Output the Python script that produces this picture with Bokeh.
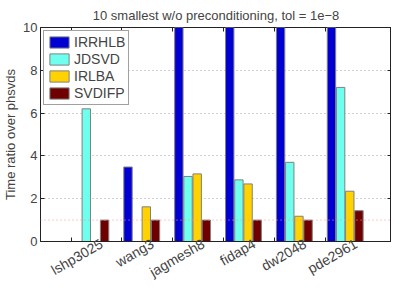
import math
from bokeh.plotting import figure
from bokeh.models import (ColumnDataSource, FixedTicker, Span, LinearAxis,
                          Legend, LegendItem)
from bokeh.transform import dodge
from bokeh.embed import file_html
from bokeh.resources import INLINE

nan = float("nan")
datasets = ["lshp3025", "wang3", "jagmesh8", "fidap4", "dw2048", "pde2961"]
positions = [1, 2, 3, 4, 5, 6]
irrhlb = [nan, 3.48, 12.0, 12.0, 12.0, 12.0]
jdsvd = [6.2, nan, 3.04, 2.88, 3.70, 7.2]
irlba = [nan, 1.62, 3.16, 2.69, 1.18, 2.35]
svdifp = [1.0, 1.0, 1.0, 1.0, 1.0, 1.44]
yticks = [0, 2, 4, 6, 8, 10]

series = [("IRRHLB", irrhlb, "#0000d2", 0.12),
          ("JDSVD", jdsvd, "#6effee", 0.30),
          ("IRLBA", irlba, "#ffd200", 0.48),
          ("SVDIFP", svdifp, "#6e0000", 0.66)]

FONT = "Liberation Sans"
LABEL_SHIFT = 0.6  # rotated labels end to the right of their tick

src = ColumnDataSource(dict(x=positions, IRRHLB=irrhlb, JDSVD=jdsvd,
                            IRLBA=irlba, SVDIFP=svdifp))

p = figure(width=391, height=289, x_range=(0.4, 7.3), y_range=(0, 10),
           output_backend="svg", toolbar_location=None,
           min_border_bottom=0, min_border_right=0, min_border_left=0,
           min_border_top=0)

p.title.text = "10 smallest w/o preconditioning, tol = 1e\u22128"
p.title.align = "center"
p.title.text_font = FONT
p.title.text_font_size = "13px"
p.title.text_font_style = "normal"
p.title.standoff = 10

items = []
for name, vals, color, off in series:
    r = p.vbar(x=dodge("x", off, range=p.x_range), top=name, width=0.165,
               bottom=0, source=src, fill_color=color, line_color="#808080",
               line_width=1)
    items.append(LegendItem(label=name, renderers=[r]))

# grid
p.xgrid.visible = False
p.ygrid.ticker = FixedTicker(ticks=[2, 4, 6, 8])
p.ygrid.grid_line_color = "#a0a0a0"
p.ygrid.grid_line_dash = "1 3"
p.add_layout(Span(location=1, dimension="width", line_color="#ff9090",
                  line_dash="1 3", line_width=1))

# axes
p.outline_line_color = "#222222"
xa = p.xaxis[0]
xa.axis_label = None
xa.ticker = FixedTicker(ticks=[v + LABEL_SHIFT for v in positions],
                        minor_ticks=positions)
xa.major_label_overrides = {v + LABEL_SHIFT: n for v, n in zip(positions, datasets)}
xa.major_label_orientation = math.radians(30)
xa.major_tick_line_color = None
xa.major_tick_in = 0
xa.major_tick_out = 0
xa.minor_tick_in = 4
xa.minor_tick_out = 0
xa.minor_tick_line_color = "#222222"
xa.major_label_standoff = 1
xa.major_label_text_font = FONT
xa.major_label_text_font_size = "14px"
xa.axis_line_color = "#222222"

ya = p.yaxis[0]
ya.ticker = FixedTicker(ticks=yticks)
ya.major_tick_in = 4
ya.major_tick_out = 0
ya.minor_tick_line_color = None
ya.major_label_text_font = FONT
ya.major_label_text_font_size = "13px"
ya.major_label_standoff = 3
ya.axis_label = "Time ratio over phsvds"
ya.axis_label_text_font = FONT
ya.axis_label_text_font_size = "13px"
ya.axis_label_text_font_style = "normal"
ya.axis_label_standoff = 2
ya.axis_line_color = "#222222"
ya.major_tick_line_color = "#222222"

top_ax = LinearAxis(ticker=FixedTicker(ticks=[], minor_ticks=positions),
                    minor_tick_in=4, minor_tick_out=0, axis_line_color=None,
                    major_label_standoff=0,
                    minor_tick_line_color="#222222", major_tick_line_color=None)
p.add_layout(top_ax, "above")
right_ax = LinearAxis(ticker=FixedTicker(ticks=[], minor_ticks=yticks),
                      minor_tick_in=4, minor_tick_out=0, axis_line_color=None,
                      major_label_standoff=0,
                      minor_tick_line_color="#222222", major_tick_line_color=None)
p.add_layout(right_ax, "right")

legend = Legend(items=items, location="top_left")
legend.label_text_font = FONT
legend.label_text_font_size = "14px"
legend.glyph_width = 24
legend.glyph_height = 14
legend.label_height = 14
legend.spacing = 1
legend.padding = 3
legend.margin = 3
legend.label_standoff = 3
legend.border_line_color = "#444444"
legend.background_fill_alpha = 1
p.add_layout(legend)

open("out.html", "w").write(file_html(p, INLINE))
